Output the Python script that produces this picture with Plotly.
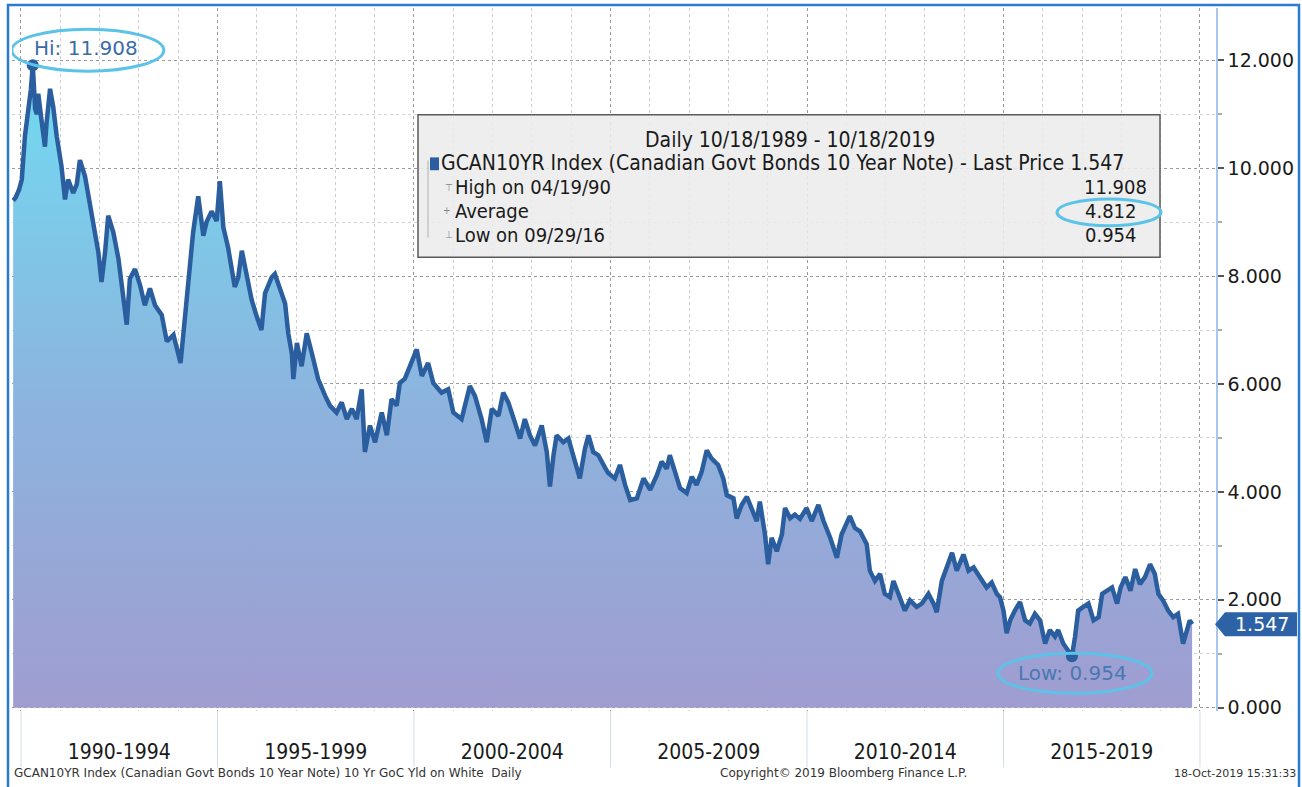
import numpy as np
import pandas as pd
import plotly.graph_objects as go

# ---------------- data ----------------
t_years = [
    1989.80, 1989.86, 1989.95, 1990.02, 1990.10, 1990.18, 1990.25, 1990.30, 1990.36, 1990.40,
    1990.44, 1990.52, 1990.57, 1990.61, 1990.65, 1990.74, 1990.82, 1990.91, 1991.03, 1991.12,
    1991.20, 1991.33, 1991.42, 1991.50, 1991.63, 1991.80, 1991.93, 1991.97, 1992.05, 1992.14,
    1992.22, 1992.35, 1992.48, 1992.65, 1992.69, 1992.77, 1992.90, 1993.03, 1993.15, 1993.28,
    1993.41, 1993.58, 1993.71, 1993.88, 1994.00, 1994.06, 1994.17, 1994.30, 1994.38, 1994.51,
    1994.64, 1994.72, 1994.85, 1994.98, 1995.06, 1995.15, 1995.27, 1995.44, 1995.53, 1995.62,
    1995.74, 1995.87, 1996.00, 1996.12, 1996.21, 1996.38, 1996.46, 1996.59, 1996.72, 1996.80,
    1996.89, 1996.93, 1997.02, 1997.14, 1997.27, 1997.40, 1997.56, 1997.74, 1997.86, 1998.03,
    1998.16, 1998.29, 1998.42, 1998.54, 1998.67, 1998.75, 1998.88, 1999.01, 1999.18, 1999.31,
    1999.43, 1999.56, 1999.64, 1999.77, 1999.90, 2000.07, 2000.20, 2000.36, 2000.49, 2000.70,
    2000.87, 2001.00, 2001.21, 2001.42, 2001.55, 2001.72, 2001.85, 2001.98, 2002.15, 2002.27,
    2002.40, 2002.57, 2002.70, 2002.82, 2002.95, 2003.08, 2003.25, 2003.38, 2003.46, 2003.55,
    2003.63, 2003.80, 2003.93, 2004.05, 2004.22, 2004.35, 2004.44, 2004.56, 2004.69, 2004.86,
    2004.94, 2005.11, 2005.24, 2005.37, 2005.50, 2005.67, 2005.84, 2006.01, 2006.18, 2006.30,
    2006.43, 2006.51, 2006.64, 2006.77, 2006.94, 2007.07, 2007.19, 2007.32, 2007.45, 2007.57,
    2007.74, 2007.87, 2007.96, 2008.13, 2008.21, 2008.34, 2008.47, 2008.59, 2008.72, 2008.80,
    2008.93, 2009.01, 2009.10, 2009.23, 2009.36, 2009.44, 2009.57, 2009.69, 2009.82, 2009.99,
    2010.12, 2010.29, 2010.42, 2010.59, 2010.76, 2010.88, 2011.09, 2011.22, 2011.35, 2011.52,
    2011.60, 2011.73, 2011.86, 2011.98, 2012.11, 2012.20, 2012.32, 2012.49, 2012.62, 2012.79,
    2012.92, 2013.09, 2013.22, 2013.30, 2013.43, 2013.56, 2013.69, 2013.81, 2013.98, 2014.11,
    2014.24, 2014.40, 2014.57, 2014.70, 2014.83, 2014.91, 2015.00, 2015.08, 2015.17, 2015.29,
    2015.42, 2015.55, 2015.67, 2015.80, 2015.93, 2016.06, 2016.18, 2016.31, 2016.39, 2016.52,
    2016.65, 2016.74, 2016.82, 2016.90, 2017.03, 2017.16, 2017.29, 2017.42, 2017.51, 2017.64,
    2017.76, 2017.89, 2017.98, 2018.10, 2018.23, 2018.35, 2018.47, 2018.60, 2018.73, 2018.85,
    2018.94, 2019.06, 2019.19, 2019.32, 2019.44, 2019.57, 2019.66, 2019.74, 2019.80,
]
yield_pct = [
    9.40, 9.45, 9.60, 9.79, 10.59, 11.00, 11.45, 11.908, 11.10, 11.00,
    11.38, 10.90, 10.59, 10.40, 10.83, 11.47, 11.14, 10.59, 10.04, 9.42,
    9.79, 9.54, 9.70, 10.15, 9.85, 9.12, 8.62, 8.44, 7.89, 8.44,
    9.12, 8.81, 8.32, 7.34, 7.10, 7.95, 8.13, 7.83, 7.46, 7.77,
    7.46, 7.28, 6.79, 6.91, 6.61, 6.39, 7.22, 8.32, 8.81, 9.48,
    8.75, 9.00, 9.20, 9.02, 9.76, 8.90, 8.53, 7.80, 7.98, 8.47,
    8.04, 7.56, 7.25, 7.00, 7.68, 7.98, 8.04, 7.74, 7.49, 6.94,
    6.57, 6.09, 6.76, 6.33, 6.94, 6.57, 6.09, 5.78, 5.60, 5.47,
    5.66, 5.35, 5.54, 5.35, 5.90, 4.74, 5.23, 4.92, 5.47, 5.05,
    5.72, 5.60, 6.02, 6.10, 6.33, 6.64, 6.15, 6.39, 6.02, 5.84,
    5.90, 5.47, 5.35, 5.96, 5.78, 5.35, 4.92, 5.54, 5.41, 5.84,
    5.66, 5.29, 4.99, 5.35, 5.05, 4.86, 5.23, 4.74, 4.10, 4.68,
    5.05, 4.92, 4.99, 4.68, 4.25, 4.80, 5.05, 4.74, 4.68, 4.45,
    4.35, 4.25, 4.50, 4.13, 3.85, 3.88, 4.25, 4.04, 4.31, 4.56,
    4.43, 4.68, 4.37, 4.07, 3.98, 4.28, 4.13, 4.37, 4.77, 4.62,
    4.50, 4.25, 3.94, 3.88, 3.51, 3.76, 3.91, 3.70, 3.46, 3.82,
    3.21, 2.66, 3.15, 2.90, 3.21, 3.70, 3.51, 3.58, 3.50, 3.70,
    3.46, 3.76, 3.46, 3.15, 2.78, 3.21, 3.55, 3.33, 3.27, 3.03,
    2.54, 2.35, 2.48, 2.11, 2.05, 2.35, 2.11, 1.80, 1.99, 1.87,
    1.93, 2.11, 1.93, 1.77, 2.35, 2.60, 2.87, 2.54, 2.84, 2.54,
    2.60, 2.42, 2.23, 2.32, 2.11, 2.05, 1.80, 1.38, 1.62, 1.80,
    1.96, 1.62, 1.56, 1.74, 1.62, 1.19, 1.44, 1.32, 1.44, 1.19,
    1.07, 0.954, 1.32, 1.80, 1.87, 1.93, 1.62, 1.68, 2.11, 2.17,
    2.23, 1.93, 2.23, 2.42, 2.17, 2.57, 2.29, 2.42, 2.66, 2.48,
    2.11, 1.99, 1.80, 1.68, 1.74, 1.19, 1.44, 1.62, 1.547,
]
hi_year, hi_val = 1990.30, 11.908
lo_year, lo_val = 2016.74, 0.954
last_val = 1.547
avg_val = 4.812
period_labels = ["1990-1994", "1995-1999", "2000-2004", "2005-2009", "2010-2014", "2015-2019"]
period_mid_years = [1992.5, 1997.5, 2002.5, 2007.5, 2012.5, 2017.5]
boundary_years = [1990, 1995, 2000, 2005, 2010, 2015, 2020]
y_ticks = [0, 2, 4, 6, 8, 10, 12]
y_minor_ticks = [1, 3, 5, 7, 9, 11]


def to_date(y):
    yr = int(np.floor(y))
    start = pd.Timestamp(year=yr, month=1, day=1)
    end = pd.Timestamp(year=yr + 1, month=1, day=1)
    return start + (end - start) * (y - yr)


dates = [to_date(y) for y in t_years]

# ---------------- layout helpers ----------------
W, H = 1302, 787


def PX(x):
    return x / W


def PY(y):
    return 1 - y / H


COND = "DejaVu Sans Condensed, Liberation Sans Narrow, DejaVu Sans, sans-serif"
WIDE = "DejaVu Sans, Verdana, sans-serif"
LINE = "#2b5e9e"
RING = "#5bc3e8"

fig = go.Figure()
fig.add_trace(go.Scatter(
    x=dates, y=yield_pct, mode="lines",
    line=dict(color=LINE, width=4.5),
    fill="tozeroy",
    fillgradient=dict(type="vertical", start=0, stop=11.5,
                      colorscale=[[0, "#a09cd0"], [0.5, "#8cb4de"], [1, "#72d8f0"]]),
    hoverinfo="skip", showlegend=False,
))
fig.add_trace(go.Scatter(
    x=[to_date(hi_year), to_date(lo_year)], y=[hi_val, lo_val], mode="markers",
    marker=dict(size=12, color=LINE), hoverinfo="skip", showlegend=False,
))
fig.add_trace(go.Scatter(
    x=[dates[0]], y=[0], xaxis="x2", mode="markers", marker=dict(opacity=0),
    hoverinfo="skip", showlegend=False,
))

x_range = [to_date(1989.771), to_date(2020.407)]

shapes = []
# separators in the label band
for b in boundary_years:
    shapes.append(dict(type="line", xref="x", yref="paper", x0=to_date(b), x1=to_date(b),
                       y0=PY(775), y1=PY(718), line=dict(color="#d3dcec", width=1), layer="below"))
# legend box
shapes.append(dict(type="rect", xref="paper", yref="paper", x0=PX(418), x1=PX(1160), y0=PY(260), y1=PY(116),
                   fillcolor="rgba(236,236,236,0.88)", line=dict(color="#5a5a5a", width=1.5)))
shapes.append(dict(type="rect", xref="paper", yref="paper", x0=PX(430), x1=PX(439), y0=PY(172), y1=PY(159),
                   fillcolor=LINE, line=dict(width=0)))
shapes.append(dict(type="line", xref="paper", yref="paper", x0=PX(428), x1=PX(428), y0=PY(240), y1=PY(162),
                   line=dict(color="#b0b0b0", width=1)))
# average ring
shapes.append(dict(type="circle", xref="paper", yref="paper", x0=PX(1057), x1=PX(1161), y0=PY(228), y1=PY(201),
                   line=dict(color=RING, width=3)))
# hi ring
shapes.append(dict(type="circle", xref="x", yref="y", xsizemode="pixel", ysizemode="pixel",
                   xanchor=to_date(hi_year), yanchor=hi_val, x0=-21, x1=131, y0=-6, y1=36,
                   line=dict(color=RING, width=3)))
# low ring
shapes.append(dict(type="circle", xref="x", yref="y", xsizemode="pixel", ysizemode="pixel",
                   xanchor=to_date(lo_year), yanchor=lo_val, x0=-74, x1=80, y0=-37, y1=3,
                   line=dict(color=RING, width=3)))
# last price flag
shapes.append(dict(type="path", xref="paper", yref="y", xsizemode="pixel", ysizemode="pixel",
                   xanchor=PX(1215), yanchor=last_val,
                   path="M 0 0 L 10 12 L 82 12 L 82 -12 L 10 -12 Z",
                   fillcolor="#2d63a6", line=dict(width=0)))
# outer frame
shapes.append(dict(type="rect", xref="paper", yref="paper", x0=PX(8), x1=PX(1299), y0=PY(800), y1=PY(5),
                   line=dict(color="#2a7ad0", width=2.5)))


def ann(text, x, y, size, color="#1a1a1a", family=COND, xanchor="left"):
    return dict(text=text, x=PX(x), y=PY(y), xref="paper", yref="paper", showarrow=False,
                xanchor=xanchor, yanchor="middle", font=dict(family=family, size=size, color=color))


LS = 20
annotations = [
    ann("Daily 10/18/1989 - 10/18/2019", 790, 141, 21, xanchor="center"),
    ann("GCAN10YR Index (Canadian Govt Bonds 10 Year Note) - Last Price %.3f" % last_val, 439, 165, 21),
    ann("High on 04/19/90", 453, 189, LS),
    ann("%.3f" % hi_val, 1149, 189, LS, xanchor="right"),
    ann("Average", 453, 213, LS),
    ann("%.3f" % avg_val, 1139, 213, LS, xanchor="right"),
    ann("Low on 09/29/16", 453, 237, LS),
    ann("%.3f" % lo_val, 1139, 237, LS, xanchor="right"),
    ann("⊤", 443, 189, 10, color="#888"),
    ann("+", 441, 213, 10, color="#888"),
    ann("⊥", 443, 237, 10, color="#888"),
    ann("GCAN10YR Index (Canadian Govt Bonds 10 Year Note) 10 Yr GoC Yld on White  Daily", 12, 781, 12,
        color="#333", family=WIDE),
    ann("Copyright© 2019 Bloomberg Finance L.P.", 843, 781, 12, color="#333", family=WIDE, xanchor="center"),
    ann("18-Oct-2019 15:31:33", 1298, 781, 11, color="#333", family=WIDE, xanchor="right"),
    dict(text="Hi: %.3f" % hi_val, x=to_date(hi_year), y=hi_val, xref="x", yref="y", showarrow=False,
         xanchor="center", xshift=53, yshift=17, font=dict(family=WIDE, size=20, color="#3c6ca6")),
    dict(text="Low: %.3f" % lo_val, x=to_date(lo_year), y=lo_val, xref="x", yref="y", showarrow=False,
         xanchor="center", xshift=1, yshift=-17, font=dict(family=WIDE, size=20, color="#4a78b2")),
    dict(text="%.3f" % last_val, x=PX(1262), y=last_val, xref="paper", yref="y", showarrow=False,
         xanchor="center", font=dict(family=WIDE, size=19, color="white")),
]

fig.update_layout(
    width=W, height=H,
    margin=dict(l=0, r=0, t=0, b=0),
    paper_bgcolor="white", plot_bgcolor="white",
    showlegend=False,
    xaxis=dict(
        domain=[PX(12), PX(1216)], range=x_range, type="date",
        tickmode="array", tickvals=[to_date(b) for b in boundary_years], showticklabels=False, ticks="",
        showgrid=True, gridcolor="#9a9a9a", griddash="dot", gridwidth=1, zeroline=False, showline=False,
        minor=dict(dtick="M12", tick0="1990-01-01", showgrid=True, gridcolor="#cdcdcd", griddash="dot", ticks=""),
    ),
    xaxis2=dict(
        overlaying="x", anchor="y", side="bottom", type="date", range=x_range,
        tickmode="array", tickvals=[to_date(m) for m in period_mid_years], ticktext=period_labels,
        ticks="outside", ticklen=22, tickcolor="rgba(0,0,0,0)",
        tickfont=dict(family=COND, size=21, color="#1a1a1a"),
        showgrid=False, zeroline=False, showline=False,
    ),
    yaxis=dict(
        domain=[PY(718), PY(8)], range=[-0.055, 12.97], side="right", anchor="x",
        tickmode="array", tickvals=y_ticks, tickformat=".3f",
        tickfont=dict(family=WIDE, size=19, color="#1a1a1a"),
        showline=True, linecolor="#a9c7ea", linewidth=1.5,
        ticks="outside", ticklen=6, tickcolor="#555", tickwidth=1.5,
        showgrid=True, gridcolor="#9a9a9a", griddash="dot", gridwidth=1, zeroline=False,
        minor=dict(tickvals=y_minor_ticks, ticks="outside", ticklen=4, tickcolor="#aaa",
                   showgrid=True, gridcolor="#d2d2d2", griddash="dot"),
    ),
    shapes=shapes,
    annotations=annotations,
)

fig.write_html("out.html")
